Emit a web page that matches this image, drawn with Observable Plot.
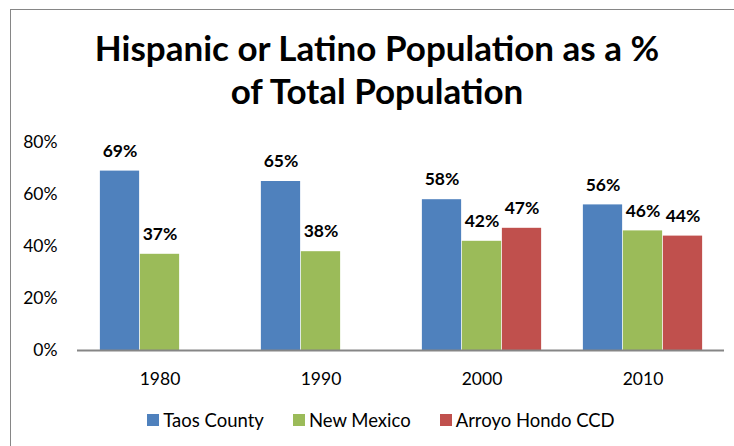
<!DOCTYPE html>
<html>
<head>
<meta charset="utf-8">
<script src="https://cdn.jsdelivr.net/npm/d3@7"></script>
<script src="https://cdn.jsdelivr.net/npm/@observablehq/plot@0.6"></script>
<style>
  html, body { margin: 0; padding: 0; background: #fff; }
  body { width: 734px; height: 446px; overflow: hidden; position: relative; font-family: Lato, "Open Sans", sans-serif; }
  #frame { position: absolute; left: 10px; top: 9px; width: 760px; height: 460px; border: 1px solid #868686; box-sizing: border-box; }
  #title { position: absolute; left: 0; top: 26px; width: 754px; text-align: center; font-weight: bold; font-size: 35px; line-height: 43px; color: #000; }
  #chart { position: absolute; left: 0; top: 125px; }
  #legend { position: absolute; left: 0; top: 408px; width: 762px; display: flex; justify-content: center; gap: 29px; font-size: 18.5px; color: #000; }
  .item { display: flex; align-items: center; gap: 4px; line-height: 24px; }
  .sw { width: 12px; height: 12px; display: inline-block; }
</style>
</head>
<body>
<div id="frame"></div>
<div id="title">Hispanic or Latino Population as a %<br>of Total Population</div>
<div id="chart"></div>
<div id="legend"></div>
<script>
const years = ["1980", "1990", "2000", "2010"];
const series = ["Taos County", "New Mexico", "Arroyo Hondo CCD"];
const taosCounty = [0.69, 0.65, 0.58, 0.56];
const newMexico = [0.37, 0.38, 0.42, 0.46];
const arroyoHondo = [null, null, 0.47, 0.44];
const colors = ["#4F81BD", "#9BBB59", "#C0504D"];
const yTicks = [0, 0.2, 0.4, 0.6, 0.8];

const seriesValues = [taosCounty, newMexico, arroyoHondo];
const rows = [];
series.forEach((s, k) => {
  years.forEach((y, i) => {
    const v = seriesValues[k][i];
    if (v != null) rows.push({year: y, series: s, value: v, k});
  });
});

const pct = d3.format(".0%");
const barW = 40;
const step = (734 - 77 - 10) / years.length;
const inset = (step - barW) / 2;

const marks = [];
series.forEach((s, k) => {
  const data = rows.filter(d => d.series === s);
  marks.push(Plot.barY(data, {x: "year", y: "value", fill: "series", insetLeft: inset, insetRight: inset, dx: (k - 1) * barW}));
  marks.push(Plot.text(data, {x: "year", y: "value", text: d => pct(d.value), dx: (k - 1) * barW, dy: -20, fontWeight: "bold", fontSize: 17.5, fill: "#000"}));
});

const chart = Plot.plot({
  width: 734,
  height: 270,
  marginTop: 17,
  marginBottom: 45,
  marginLeft: 77,
  marginRight: 10,
  style: {fontFamily: "Lato, sans-serif", fontSize: "17.5px", color: "#000", background: "transparent"},
  x: {domain: years, padding: 0, axis: null},
  y: {domain: [0, 0.8], axis: null},
  color: {domain: series, range: colors},
  marks: [
    Plot.axisY(yTicks, {tickSize: 0, tickPadding: 20, tickFormat: pct, fontSize: 17.5, label: null}),
    Plot.axisX(years, {tickSize: 0, tickPadding: 22, fontSize: 17.5, label: null}),
    ...marks,
    Plot.ruleY([0], {stroke: "#868686", strokeWidth: 2})
  ]
});
document.getElementById("chart").appendChild(chart);

const legend = document.getElementById("legend");
series.forEach((s, k) => {
  const it = document.createElement("div");
  it.className = "item";
  const sw = document.createElement("span");
  sw.className = "sw";
  sw.style.background = colors[k];
  const t = document.createElement("span");
  t.textContent = s;
  it.appendChild(sw);
  it.appendChild(t);
  legend.appendChild(it);
});
</script>
</body>
</html>
